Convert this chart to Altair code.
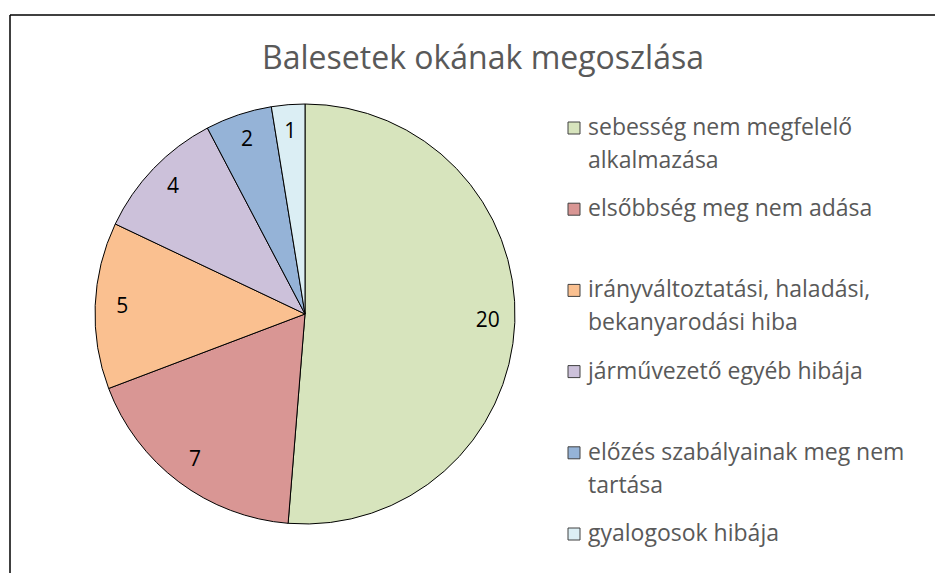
import altair as alt
import pandas as pd

FONT = "Open Sans"

title_text = "Balesetek okának megoszlása"
categories = [
    "sebesség nem megfelelő alkalmazása",
    "elsőbbség meg nem adása",
    "irányváltoztatási, haladási, bekanyarodási hiba",
    "járművezető egyéb hibája",
    "előzés szabályainak meg nem tartása",
    "gyalogosok hibája",
]
legend_labels = [
    "sebesség nem megfelelő\nalkalmazása",
    "elsőbbség meg nem adása",
    "irányváltoztatási, haladási,\nbekanyarodási hiba",
    "járművezető egyéb hibája",
    "előzés szabályainak meg nem\ntartása",
    "gyalogosok hibája",
]
values = [20, 7, 5, 4, 2, 1]
colors = ["#D7E4BD", "#D99694", "#FAC090", "#CCC1DA", "#95B3D7", "#DBEEF4"]

df = pd.DataFrame({
    "cat": categories,
    "label": legend_labels,
    "value": values,
    "order": list(range(len(values))),
})

W, H = 927, 565
CX, CY, R = 297, 306, 210

cscale = alt.Scale(domain=categories, range=colors)
base = alt.Chart(df)

pie = base.mark_arc(outerRadius=R, stroke="#000000", strokeWidth=1).encode(
    theta=alt.Theta("value:Q", stack=True),
    color=alt.Color("cat:N", scale=cscale, legend=None),
    order=alt.Order("order:Q"),
    x=alt.value(CX),
    y=alt.value(CY),
)

slice_labels = base.mark_text(radius=183, fontSize=21, font=FONT, color="#000000").encode(
    theta=alt.Theta("value:Q", stack=True),
    order=alt.Order("order:Q"),
    detail="cat:N",
    text="value:Q",
    x=alt.value(CX),
    y=alt.value(CY),
)

ly = alt.Y("cat:N", scale=alt.Scale(domain=categories, range=[120, 526], padding=0), axis=None)

squares = base.mark_square(size=144, stroke="#404040", strokeWidth=1, opacity=1).encode(
    x=alt.value(566),
    y=ly,
    fill=alt.Fill("cat:N", scale=cscale, legend=None),
)

legend_text = base.mark_text(
    align="left", baseline="middle", lineBreak="\n", lineHeight=33,
    fontSize=23, font=FONT, color="#595959",
).encode(
    x=alt.value(580),
    y=ly,
    text="label:N",
)

title = alt.Chart(pd.DataFrame({"t": [title_text]})).mark_text(
    fontSize=32, font=FONT, color="#595959", align="center", baseline="alphabetic"
).encode(text="t:N", x=alt.value(475), y=alt.value(61))

fd = pd.DataFrame({"k": [0]})
left_line = alt.Chart(fd).mark_rule(color="#000000", strokeWidth=1.5).encode(
    x=alt.value(2), y=alt.value(7), y2=alt.value(H)
)
top_line = alt.Chart(fd).mark_rule(color="#000000", strokeWidth=1.5).encode(
    x=alt.value(2), x2=alt.value(W), y=alt.value(7)
)

chart = alt.layer(left_line, top_line, title, pie, slice_labels, squares, legend_text).properties(
    width=W, height=H,
    padding={"left": 0, "top": 0, "right": 0, "bottom": 0},
    autosize=alt.AutoSizeParams(type="none"),
    background="white",
).configure_view(stroke=None)

chart.save("out.html", embed_options={"renderer": "svg", "actions": False})
